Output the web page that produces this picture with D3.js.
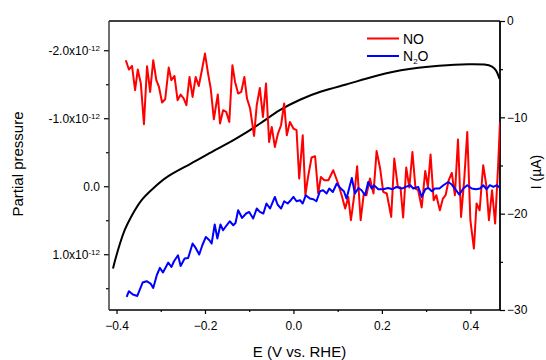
<!DOCTYPE html>
<html><head><meta charset="utf-8">
<script src="https://cdn.jsdelivr.net/npm/d3@7"></script>
<style>
body{margin:0;background:#fff}
svg{display:block}
text{font-family:"Liberation Sans",Arial,sans-serif;fill:#000}
</style>
</head><body>
<svg id="c" width="546" height="360"></svg>
<script>
// ---- Data ----
// NO partial pressure (units of 1e-12), vs potential E (V vs RHE)
const noE = [-0.379,-0.372,-0.365,-0.358,-0.352,-0.345,-0.338,-0.331,-0.324,-0.317,-0.310,-0.304,-0.297,-0.290,-0.282,-0.276,-0.269,-0.262,-0.255,-0.248,-0.242,-0.235,-0.228,-0.221,-0.214,-0.207,-0.200,-0.193,-0.187,-0.180,-0.171,-0.166,-0.159,-0.152,-0.145,-0.138,-0.132,-0.125,-0.118,-0.111,-0.105,-0.098,-0.089,-0.083,-0.076,-0.069,-0.062,-0.055,-0.049,-0.042,-0.035,-0.028,-0.021,-0.015,-0.008,0.000,0.007,0.013,0.021,0.027,0.033,0.041,0.049,0.056,0.062,0.070,0.079,0.090,0.101,0.109,0.117,0.124,0.130,0.137,0.144,0.152,0.159,0.165,0.173,0.181,0.188,0.196,0.203,0.211,0.221,0.228,0.236,0.242,0.248,0.255,0.262,0.269,0.276,0.282,0.290,0.298,0.304,0.310,0.317,0.323,0.331,0.338,0.344,0.351,0.358,0.365,0.372,0.379,0.386,0.393,0.400,0.408,0.414,0.421,0.429,0.436,0.442,0.449,0.456,0.463,0.467];
const noP = [-1.853,-1.716,-1.769,-1.412,-1.716,-1.510,-0.912,-1.765,-1.387,-1.853,-1.559,-1.460,-1.231,-1.279,-1.746,-1.559,-1.622,-1.265,-1.349,-1.290,-1.191,-1.607,-1.313,-1.607,-1.475,-1.706,-1.951,-1.657,-1.437,-0.985,-1.349,-0.922,-1.118,-1.093,-0.946,-1.779,-1.534,-1.363,-1.387,-1.607,-1.290,-1.143,-0.740,-1.191,-1.446,-1.019,-1.510,-0.651,-0.872,-0.578,-0.775,-0.897,-1.216,-0.750,-0.946,-0.849,-0.824,-0.113,-0.750,0.132,-0.137,-0.422,-0.441,0.107,-0.137,-0.088,-0.088,-0.235,-0.040,0.132,0.328,0.157,0.500,0.157,-0.294,0.500,0.107,0.132,-0.113,0.107,-0.519,-0.260,0.084,0.107,0.451,-0.407,0.010,0.019,0.460,-0.275,0.019,-0.504,0.034,0.059,0.313,-0.225,0.010,-0.466,0.206,0.132,0.353,0.181,0.132,-0.088,-0.196,0.132,-0.687,0.451,-0.088,-0.799,0.500,0.916,0.254,0.353,-0.309,-0.015,0.500,0.059,0.549,-0.334,-0.941];

// N2O partial pressure (units of 1e-12)
const n2oE = [-0.377,-0.372,-0.363,-0.353,-0.341,-0.332,-0.323,-0.317,-0.309,-0.302,-0.295,-0.283,-0.276,-0.270,-0.261,-0.255,-0.246,-0.238,-0.228,-0.221,-0.213,-0.206,-0.198,-0.190,-0.185,-0.178,-0.172,-0.165,-0.159,-0.151,-0.144,-0.136,-0.131,-0.125,-0.116,-0.107,-0.100,-0.091,-0.083,-0.076,-0.068,-0.061,-0.053,-0.042,-0.036,-0.028,-0.021,-0.013,-0.006,0.000,0.007,0.015,0.021,0.028,0.037,0.045,0.052,0.060,0.067,0.075,0.081,0.089,0.098,0.107,0.114,0.120,0.132,0.139,0.147,0.154,0.162,0.169,0.177,0.182,0.192,0.203,0.214,0.224,0.233,0.245,0.254,0.264,0.271,0.282,0.290,0.298,0.305,0.313,0.320,0.330,0.339,0.350,0.358,0.365,0.375,0.384,0.393,0.403,0.413,0.422,0.429,0.437,0.444,0.452,0.460,0.467];
const n2oP = [1.628,1.544,1.593,1.613,1.416,1.397,1.431,1.496,1.309,1.201,1.269,1.122,1.187,1.103,1.015,1.172,1.063,1.054,0.843,0.907,1.004,0.868,0.746,0.794,0.843,0.563,0.769,0.563,0.647,0.574,0.515,0.574,0.540,0.353,0.466,0.401,0.378,0.475,0.328,0.378,0.401,0.254,0.328,0.157,0.269,0.328,0.221,0.254,0.206,0.157,0.221,0.206,0.254,0.132,0.181,0.191,0.221,0.074,0.059,0.107,0.034,0.084,-0.040,0.034,0.074,0.181,-0.122,0.107,0.025,0.059,0.132,-0.063,0.034,-0.015,0.044,0.044,0.025,0.044,0.010,0.034,0.010,-0.015,0.034,0.010,0.157,0.044,0.025,0.074,0.034,0.034,-0.015,-0.063,-0.025,0.034,0.122,0.034,-0.015,0.034,0.044,0.034,-0.015,0.044,-0.015,0.010,-0.015,0.025];

// Current I (µA) vs E
const curE = [-0.408,-0.402,-0.393,-0.382,-0.366,-0.344,-0.320,-0.287,-0.234,-0.174,-0.128,-0.076,-0.031,0.015,0.060,0.121,0.158,0.242,0.333,0.401,0.435,0.450,0.459,0.466];
const curI = [-25.7,-24.6,-23.2,-21.65,-20.2,-18.5,-17.5,-16.1,-14.9,-13.3,-12.2,-10.7,-9.18,-8.14,-7.3,-6.58,-6.06,-5.02,-4.6,-4.45,-4.5,-4.7,-5.1,-6.0];

// Ticks
const xTicks = [-0.4,-0.2,0.0,0.2,0.4];
const xMinor = [-0.3,-0.1,0.1,0.3];
const leftTicks = [-2,-1,0,1];
const leftMinor = [-1.5,-0.5,0.5,1.5];
const leftTickLabels = ["-2.0x10","-1.0x10","0.0","1.0x10"];
const leftExponent = "-12";
const rightTicks = [0,-10,-20,-30];
const rightMinor = [-5,-15,-25];

// ---- Layout ----
const L = 109, R = 500, T = 21, B = 310;
const svg = d3.select("#c");

const x = d3.scaleLinear().domain([-0.417, 0.467]).range([L, R]);
const yL = d3.scaleLinear().domain([-2.43, 1.82]).range([T, B]);
const yR = d3.scaleLinear().domain([0, -30]).range([T, B]);

svg.append("defs").append("clipPath").attr("id","clip")
  .append("rect").attr("x",L).attr("y",T).attr("width",R-L).attr("height",B-T);

const lineCol = "#000";
const axStroke = 1.4;

function styleAxis(g){
  g.select(".domain").remove();
  g.selectAll(".tick line").attr("stroke",lineCol).attr("stroke-width",1.2);
  g.selectAll(".tick text").attr("font-size",12).attr("fill","#000");
}

// bottom
const gx = svg.append("g").attr("transform",`translate(0,${B})`)
  .call(d3.axisBottom(x).tickValues(xTicks).tickSize(4).tickPadding(7.5).tickFormat(d3.format(".1f")));
styleAxis(gx);
const gxm = svg.append("g").attr("transform",`translate(0,${B})`)
  .call(d3.axisBottom(x).tickValues(xMinor).tickSize(2).tickFormat(""));
styleAxis(gxm);

// left
const gl = svg.append("g").attr("transform",`translate(${L},0)`)
  .call(d3.axisLeft(yL).tickValues(leftTicks).tickSize(5).tickPadding(4).tickFormat((d,i)=>""));
styleAxis(gl);
gl.selectAll(".tick text").each(function(d,i){
  const t = d3.select(this);
  t.append("tspan").text(leftTickLabels[i]);
  if (d !== 0) {
    t.append("tspan").attr("font-size",8).attr("dy","-0.5em").text(leftExponent);
  }
});
const glm = svg.append("g").attr("transform",`translate(${L},0)`)
  .call(d3.axisLeft(yL).tickValues(leftMinor).tickSize(3).tickFormat(""));
styleAxis(glm);

// right
const gr = svg.append("g").attr("transform",`translate(${R},0)`)
  .call(d3.axisRight(yR).tickValues(rightTicks).tickSize(5).tickPadding(2).tickFormat(d3.format("d")));
styleAxis(gr);
const grm = svg.append("g").attr("transform",`translate(${R},0)`)
  .call(d3.axisRight(yR).tickValues(rightMinor).tickSize(3).tickFormat(""));
styleAxis(grm);

// Frame
svg.append("line").attr("x1",L).attr("x2",R).attr("y1",T).attr("y2",T).attr("stroke","#000").attr("stroke-width",axStroke);
svg.append("line").attr("x1",L).attr("x2",R).attr("y1",B).attr("y2",B).attr("stroke","#000").attr("stroke-width",axStroke);
svg.append("line").attr("x1",L).attr("x2",L).attr("y1",T).attr("y2",B).attr("stroke","#333").attr("stroke-width",axStroke);
svg.append("line").attr("x1",R).attr("x2",R).attr("y1",T).attr("y2",B).attr("stroke","#000").attr("stroke-width",axStroke+0.4);

// Data lines
const plot = svg.append("g").attr("clip-path","url(#clip)");
const lineL = d3.line().x(d=>x(d[0])).y(d=>yL(d[1]));
const lineR = d3.line().x(d=>x(d[0])).y(d=>yR(d[1])).curve(d3.curveBasis);

plot.append("path").datum(curE.map((e,i)=>[e,curI[i]]))
  .attr("d",lineR).attr("fill","none").attr("stroke","#000").attr("stroke-width",2);
plot.append("path").datum(noE.map((e,i)=>[e,noP[i]]))
  .attr("d",lineL).attr("fill","none").attr("stroke","#ff0000").attr("stroke-width",2).attr("stroke-linejoin","round");
plot.append("path").datum(n2oE.map((e,i)=>[e,n2oP[i]]))
  .attr("d",lineL).attr("fill","none").attr("stroke","#0000ff").attr("stroke-width",2).attr("stroke-linejoin","round");

// Axis titles
svg.append("text").attr("x",(L+R)/2-5).attr("y",357).attr("text-anchor","middle")
  .attr("font-size",15).text("E (V vs. RHE)");
svg.append("text").attr("transform","translate(23,164) rotate(-90)").attr("text-anchor","middle")
  .attr("font-size",15).text("Partial pressure");
svg.append("text").attr("transform","translate(541,172) rotate(-90)").attr("text-anchor","middle")
  .attr("font-size",14).text("I (\u00b5A)");

// Legend
const legend = svg.append("g");
const legItems = [{label:"NO", color:"#ff0000"},{label:"N2O", color:"#0000ff"}];
legItems.forEach((it,i)=>{
  const yy = 38.5 + i*17.5;
  legend.append("line").attr("x1",367).attr("x2",399).attr("y1",yy).attr("y2",yy)
    .attr("stroke",it.color).attr("stroke-width",2);
  const t = legend.append("text").attr("x",403).attr("y",yy+5).attr("font-size",14);
  if (it.label === "N2O") {
    t.append("tspan").text("N");
    t.append("tspan").attr("font-size",8).attr("dy",3).text("2");
    t.append("tspan").attr("dy",-3).text("O");
  } else {
    t.text(it.label);
  }
});
</script>
</body></html>
